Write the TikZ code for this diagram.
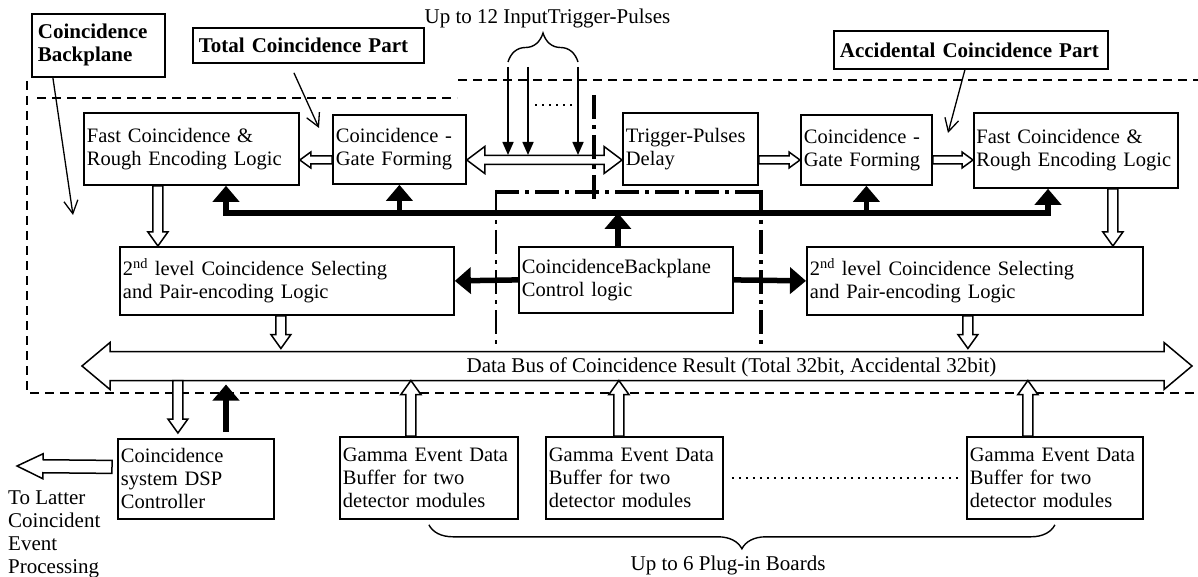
\documentclass[tikz,border=0pt]{standalone}
\usepackage{fontspec}
\setmainfont{Liberation Serif}
\usepackage{tikz}
\usetikzlibrary{arrows.meta,positioning,calc,decorations.pathreplacing}

\begin{document}
\begin{tikzpicture}[
    x=1pt, y=-1pt,
    every node/.style={font=\fontsize{21}{23}\selectfont},
    blk/.style={draw, line width=1.8pt, align=left, inner xsep=3pt, inner ysep=2pt, anchor=north west, font=\fontsize{20.5}{23}\selectfont},
    tag/.style={blk, inner xsep=6pt, font=\fontsize{21}{23}\selectfont\bfseries},
    hollow/.style n args={3}{draw, line width=1.5pt, fill=white,
        to path={let \p1=($(\tikztotarget)!#3!(\tikztostart)$) in
            ($(\tikztostart)!#1!90:(\tikztotarget)$) -- ($(\p1)!#1!90:(\tikztotarget)$)
            -- ($(\p1)!#2!90:(\tikztotarget)$) -- (\tikztotarget)
            -- ($(\p1)!#2!-90:(\tikztotarget)$) -- ($(\p1)!#1!-90:(\tikztotarget)$)
            -- ($(\tikztostart)!#1!-90:(\tikztotarget)$) -- cycle}},
    hollowboth/.style n args={3}{draw, line width=1.5pt, fill=white,
        to path={let \p1=($(\tikztostart)!#3!(\tikztotarget)$), \p2=($(\tikztotarget)!#3!(\tikztostart)$) in
            (\tikztostart) -- ($(\p1)!#2!90:(\tikztotarget)$) -- ($(\p1)!#1!90:(\tikztotarget)$)
            -- ($(\p2)!#1!90:(\tikztotarget)$) -- ($(\p2)!#2!90:(\tikztotarget)$) -- (\tikztotarget)
            -- ($(\p2)!#2!-90:(\tikztotarget)$) -- ($(\p2)!#1!-90:(\tikztotarget)$)
            -- ($(\p1)!#1!-90:(\tikztotarget)$) -- ($(\p1)!#2!-90:(\tikztotarget)$) -- cycle}},
    bus/.style={line width=5.5pt, >={Triangle[length=16pt,width=26pt]}, ->},
    feed/.style={line width=1.6pt, -{Triangle[length=13pt,width=11pt]}},
    ptr/.style={line width=1.3pt, -{Straight Barb[length=13pt,width=14pt]}},
    frame/.style={line width=1.8pt, dash pattern=on 9pt off 6pt},
    dashdot/.style={dash pattern=on 24pt off 6pt on 4pt off 6pt},
    brc/.style={line width=1.4pt, decorate, decoration={brace, amplitude=#1}},
    dots/.style={line width=2.2pt, dash pattern=on 2pt off 5pt},
]

\useasboundingbox (0,0) rectangle (1198,577);

% === Backplane frame ===
\draw[frame] (27,81) -- (27,393) -- (1198,393);
\draw[frame] (37,98) -- (457,98);
\draw[frame] (458,80) -- (1198,80);

% === Labels ===
\node[tag, text width=121pt, minimum height=63pt] (cbp) at (31,13) {Coincidence\\Backplane};
\node[tag, text width=219pt, minimum height=35pt] (tcp) at (192,27) {Total Coincidence Part};
\node[tag, text width=262pt, minimum height=38pt] (acp) at (833,30) {Accidental Coincidence Part};

\node[anchor=base] (inputs) at (547.5,24) {Up to 12 InputTrigger-Pulses};

% === Top row ===
\node[blk, text width=209pt, minimum height=72pt] (fastL) at (83,112) {Fast Coincidence \&\\Rough Encoding Logic};
\node[blk, text width=127pt, minimum height=69pt] (gateL) at (332,114) {Coincidence -\\Gate Forming};
\node[blk, text width=129pt, minimum height=72pt] (delay) at (622,112) {Trigger-Pulses\\Delay};
\node[blk, text width=125pt, minimum height=70pt] (gateR) at (800,114) {Coincidence -\\Gate Forming};
\node[blk, text width=199pt, inner xsep=2.5pt, minimum height=75pt] (fastR) at (973,112) {Fast Coincidence \&\\Rough Encoding Logic};

% === Middle row ===
\node[blk, text width=328pt, minimum height=68pt] (l2L) at (119,246) {2\textsuperscript{nd} level Coincidence Selecting\\and Pair-encoding Logic};
\node[blk, text width=208pt, minimum height=66pt] (cbc) at (518,246) {CoincidenceBackplane\\Control logic};
\node[blk, text width=330pt, minimum height=68pt] (l2R) at (806,246) {2\textsuperscript{nd} level Coincidence Selecting\\and Pair-encoding Logic};

% === Bottom row ===
\node[blk, text width=150pt, minimum height=80pt] (dsp) at (117,438) {Coincidence\\system DSP\\Controller};
\node[blk, text width=172pt, minimum height=82pt] (gam1) at (339,436) {Gamma Event Data\\Buffer for two\\detector modules};
\node[blk, text width=171pt, minimum height=82pt] (gam2) at (545,436) {Gamma Event Data\\Buffer for two\\detector modules};
\node[blk, text width=170pt, minimum height=82pt] (gam3) at (966,436) {Gamma Event Data\\Buffer for two\\detector modules};

\node[anchor=north west, align=left, inner sep=0pt] (latter) at (8,491) {To Latter\\Coincident\\Event\\Processing};
\node[anchor=base] (boards) at (728,570) {Up to 6 Plug-in Boards};

% Helper points
\coordinate (trow) at (0,160);
\coordinate (gbus) at (0,155);
\coordinate (busw) at (226,213);
\coordinate (buse) at (1048,213);
\coordinate (dbw) at (82,366);
\coordinate (dbe) at (1192,366);
\coordinate (dbs) at ([yshift=-14.5pt]dbw);
\coordinate (dbn) at ([yshift=14.5pt]dbw);
\coordinate (outTip) at (17,466);
\coordinate (bpTip) at (73,215);
\coordinate (tcpTip) at (319,128);
\coordinate (acpTip) at (948,133);

% Dash-dot boundary
\draw[dashdot, line width=1.8pt] (496,190) -- (496,345);
\draw[dashdot, line width=4pt] (761,190) -- (761,345);

% === Pulse input ===
\draw[hollowboth={4.5pt}{13.5pt}{18pt}] (gateL.east |- trow) to (delay.west |- trow);
\foreach \x [count=\i] in {508,528,578} {
  \coordinate (in\i) at (\x,67);
  \draw[feed] (in\i) -- (in\i |- gbus);
}
\draw[brc=29pt] ([yshift=5pt]in1) -- ([yshift=5pt]in3);
\draw[dots] (535,105) -- (573,105);
\draw[dashdot, line width=4pt] (594,95) -- (594,202);
\draw[dashdot, line width=4pt] (495,192) -- (762,192);

% Data flow (hollow)
\draw[hollow={4pt}{8pt}{11pt}] (gateL.west |- trow) to (fastL.east |- trow);
\draw[hollow={4pt}{8pt}{11pt}] (delay.east |- trow) to (gateR.west |- trow);
\draw[hollow={4pt}{8pt}{11pt}] (gateR.east |- trow) to (fastR.west |- trow);
\draw[hollow={5pt}{10pt}{14pt}] ([xshift=-33.5pt]fastL.south) to ([xshift=-33.5pt]fastL.south |- l2L.north);
\draw[hollow={5pt}{10pt}{14pt}] ([xshift=37pt]fastR.south) to ([xshift=37pt]fastR.south |- l2R.north);
\draw[hollow={5pt}{10pt}{14pt}] ([xshift=-6pt]l2L.south) to ([xshift=-6pt,yshift=3pt]l2L.south |- dbn);
\draw[hollow={5pt}{10pt}{14pt}] ([xshift=-7pt]l2R.south) to ([xshift=-7pt,yshift=3pt]l2R.south |- dbn);

% Data bus
\draw[hollowboth={14.5pt}{23.5pt}{28pt}] (dbw) to (dbe);
\node[anchor=base] (dbtxt) at (731.5,372) {Data Bus of Coincidence Result (Total 32bit, Accidental 32bit)};

\draw[hollow={5pt}{10pt}{14pt}] ([xshift=-18pt]dsp.north |- dbs) to ([xshift=-18pt,yshift=5pt]dsp.north);
\draw[hollow={6.5pt}{12.5pt}{26pt}] ([xshift=-5pt,yshift=12pt]dsp.west) to (outTip);
\draw[hollow={5pt}{10pt}{14pt}] ([xshift=-18pt]gam1.north) to ([xshift=-18pt]gam1.north |- dbs);
\draw[hollow={5pt}{10pt}{14pt}] ([xshift=-15.5pt]gam2.north) to ([xshift=-15.5pt]gam2.north |- dbs);
\draw[hollow={5pt}{10pt}{14pt}] ([xshift=-27pt]gam3.north) to ([xshift=-27pt]gam3.north |- dbs);

% === Control bus (black) ===
\draw[bus, <->] (fastL.south -| busw) -- (busw) -- (buse) -- (fastR.south -| buse);
\draw[bus] (gateL.south |- busw) -- (gateL.south);
\draw[bus] (gateR.south |- busw) -- (gateR.south);
\draw[bus] ([xshift=-8pt]cbc.north) -- ([xshift=-8pt]cbc.north |- busw);
\draw[bus] (cbc.west) -- (l2L.east);
\draw[bus] (cbc.east) -- (l2R.west);
\draw[bus, line width=6pt, shorten >=4pt] ([yshift=6pt]dsp.north -| busw) -- (busw |- dbs);

% Pointers
\draw[ptr] ([xshift=-45.5pt]cbp.south) -- (bpTip);
\draw[ptr] ([xshift=-14.5pt,yshift=-9pt]tcp.south) -- (tcpTip);
\draw[ptr] ([xshift=-6pt]acp.south) -- (acpTip);

% Plug-in boards
\draw[dots, shorten <=8pt, shorten >=6pt] (gam2.east) -- (gam3.west);
\draw[brc=24pt] ([yshift=-5pt]gam3.south) -- ([yshift=-5pt]gam1.south);

\end{tikzpicture}
\end{document}
